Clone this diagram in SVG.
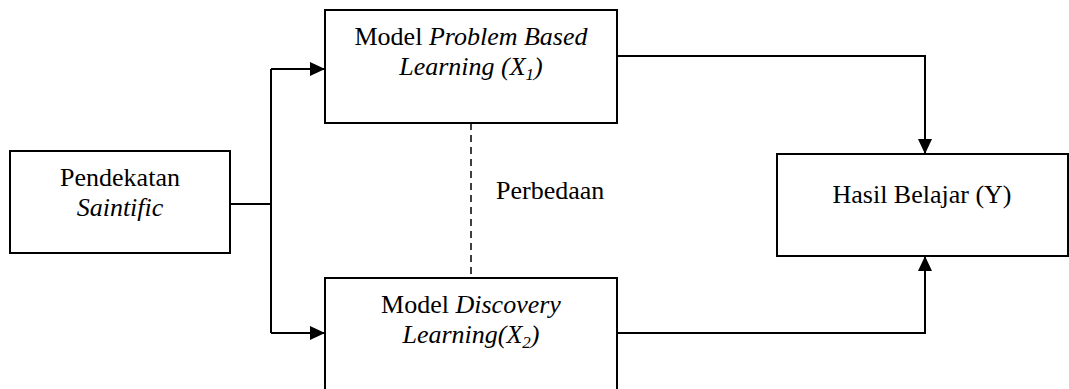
<svg xmlns="http://www.w3.org/2000/svg" width="1069" height="389" viewBox="0 0 1069 389">
<style>
  .box { fill: #ffffff; stroke: #000000; stroke-width: 2; }
  .t { font-family: "Liberation Serif", "Times New Roman", serif; font-size: 26px; fill: #000000; }
  .i { font-style: italic; }
  .c { fill: none; stroke: #000000; stroke-width: 2; }
  .d { fill: none; stroke: #000000; stroke-width: 1.5; stroke-dasharray: 7 5; }
</style>
<defs>
  <marker id="arr" viewBox="0 0 15 14" refX="15" refY="7" markerWidth="15" markerHeight="14" markerUnits="userSpaceOnUse" orient="auto">
    <path d="M0,0 L15,7 L0,14 Z" fill="#000000"/>
  </marker>
</defs>
<rect width="1069" height="389" fill="#ffffff"/>
<g id="connectors">
  <polyline class="c" points="230,204 271,204"/>
  <polyline class="c" points="271,69 271,333"/>
  <polyline class="c" points="271,69 325,69" marker-end="url(#arr)"/>
  <polyline class="c" points="271,333 325,333" marker-end="url(#arr)"/>
  <polyline class="c" points="617,56 925,56 925,154" marker-end="url(#arr)"/>
  <polyline class="c" points="617,333 925,333 925,256" marker-end="url(#arr)"/>
  <line class="d" x1="471" y1="123" x2="471" y2="278"/>
  <text class="t" x="496" y="199">Perbedaan</text>
</g>
<g id="pendekatan">
  <rect class="box" x="10" y="151" width="220" height="102"/>
  <text class="t" x="120" y="186" text-anchor="middle">Pendekatan</text>
  <text class="t i" x="120" y="216" text-anchor="middle">Saintific</text>
</g>
<g id="pbl">
  <rect class="box" x="325" y="10" width="292" height="113"/>
  <text class="t" x="471" y="45" text-anchor="middle">Model <tspan class="i">Problem Based</tspan></text>
  <text class="t i" x="471" y="75" text-anchor="middle">Learning (X<tspan font-size="17" dy="5">1</tspan><tspan dy="-5">)</tspan></text>
</g>
<g id="discovery">
  <rect class="box" x="325" y="278" width="292" height="120"/>
  <text class="t" x="471" y="313" text-anchor="middle">Model <tspan class="i">Discovery</tspan></text>
  <text class="t i" x="471" y="343" text-anchor="middle">Learning(X<tspan font-size="17" dy="5">2</tspan><tspan dy="-5">)</tspan></text>
</g>
<g id="hasil">
  <rect class="box" x="777" y="154" width="291" height="102"/>
  <text class="t" x="922" y="203" text-anchor="middle">Hasil Belajar (Y)</text>
</g>
</svg>
